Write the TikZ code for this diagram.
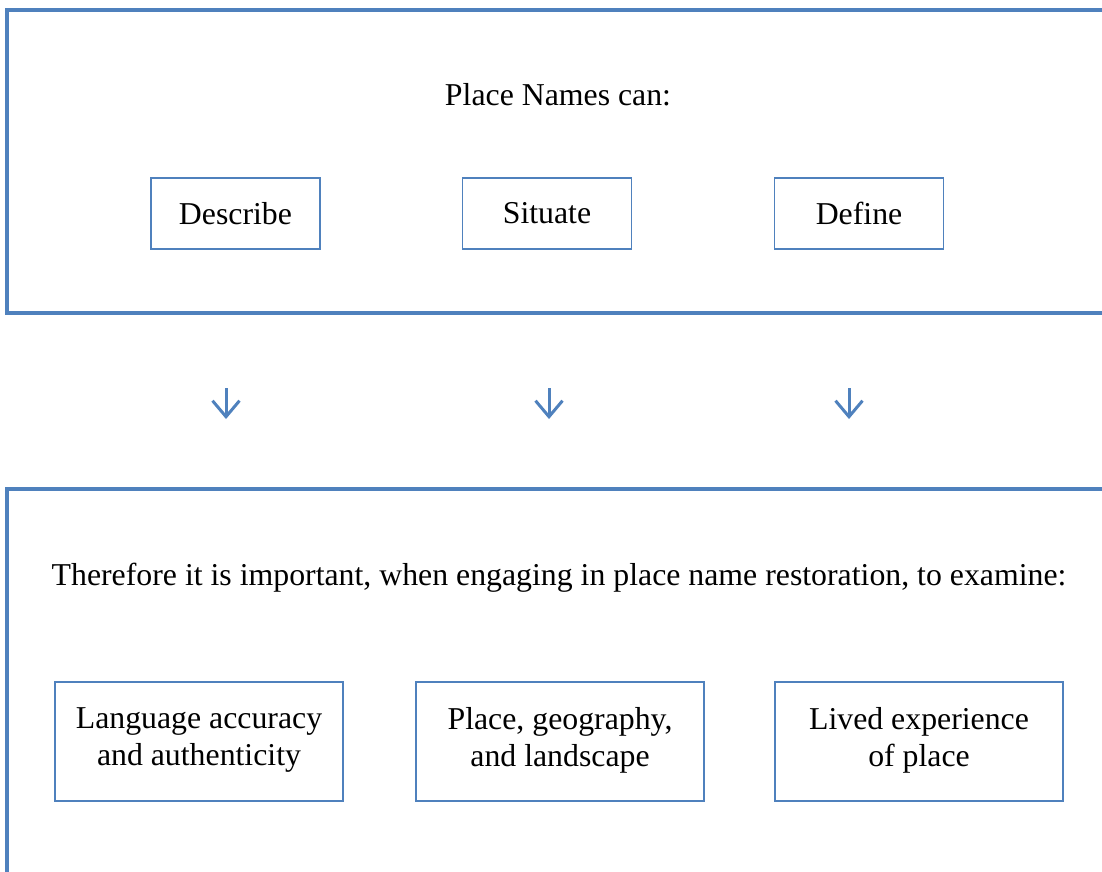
\documentclass[tikz,border=0pt]{standalone}
\usepackage{fontspec}
\setmainfont{Liberation Serif}
\definecolor{frameblue}{HTML}{4F81BD}
\tikzset{
  frameline/.style={draw=frameblue, line width=4pt, line join=miter},
  smallbox/.style={draw=frameblue, line width=1.5pt, minimum width=169pt, minimum height=71pt, inner sep=0pt, font=\fontsize{31.8}{36.5}\selectfont},
  bigbox/.style={draw=frameblue, line width=1.5pt, minimum width=288pt, minimum height=119pt, inner sep=0pt},
  boxtext/.style={align=center, inner sep=0pt, font=\fontsize{31.8}{37}\selectfont},
  headtext/.style={anchor=base, inner sep=0pt, font=\fontsize{31.8}{36.5}\selectfont},
  downarrow/.style={draw=frameblue, line width=3pt}
}
\begin{document}
\begin{tikzpicture}[x=1pt,y=1pt]
\useasboundingbox (0,0) rectangle (1102,-871);
\clip (0,0) rectangle (1102,-871);
% frames
\coordinate (f1a) at (1110,-10);
\coordinate (f1b) at (7,-10);
\coordinate (f1c) at (7,-313);
\coordinate (f1d) at (1110,-313);
\draw[frameline] (f1a) -- (f1b) -- (f1c) -- (f1d);
\coordinate (f2a) at (1110,-489);
\coordinate (f2b) at (7,-489);
\coordinate (f2c) at (7,-880);
\draw[frameline] (f2a) -- (f2b) -- (f2c);
% headings
\node[headtext] (head1) at (558,-105.5) {Place Names can:};
\node[headtext] (head2) at (559,-585.5) {Therefore it is important, when engaging in place name restoration, to examine:};
% top boxes
\node[smallbox] (describe) at (235.5,-213.5) {Describe};
\node[smallbox] (situate) at (547,-213.5) {Situate};
\node[smallbox] (define) at (859,-213.5) {Define};
% arrows
\foreach \n/\x in {a1/226, a2/549, a3/849}{
  \coordinate (\n s) at (\x,-388.3);
  \coordinate (\n e) at (\x,-416.7);
  \draw[downarrow] (\n s) -- (\n e);
  \draw[downarrow, line join=miter] ([shift={(-13.5,16)}]\n e) -- (\n e) -- ([shift={(13.5,16)}]\n e);
}
% bottom boxes
\node[bigbox] (lang) at (199,-741.5) {};
\node[boxtext] (langt) at ([yshift=1.5]lang.center) {Language accuracy\\and authenticity};
\node[bigbox] (place) at (560,-741.5) {};
\node[boxtext] (placet) at ([yshift=1.5]place.center) {Place, geography,\\and landscape};
\node[bigbox] (lived) at (919,-741.5) {};
\node[boxtext] (livedt) at ([yshift=1.5]lived.center) {Lived experience\\of place};
\end{tikzpicture}
\end{document}
